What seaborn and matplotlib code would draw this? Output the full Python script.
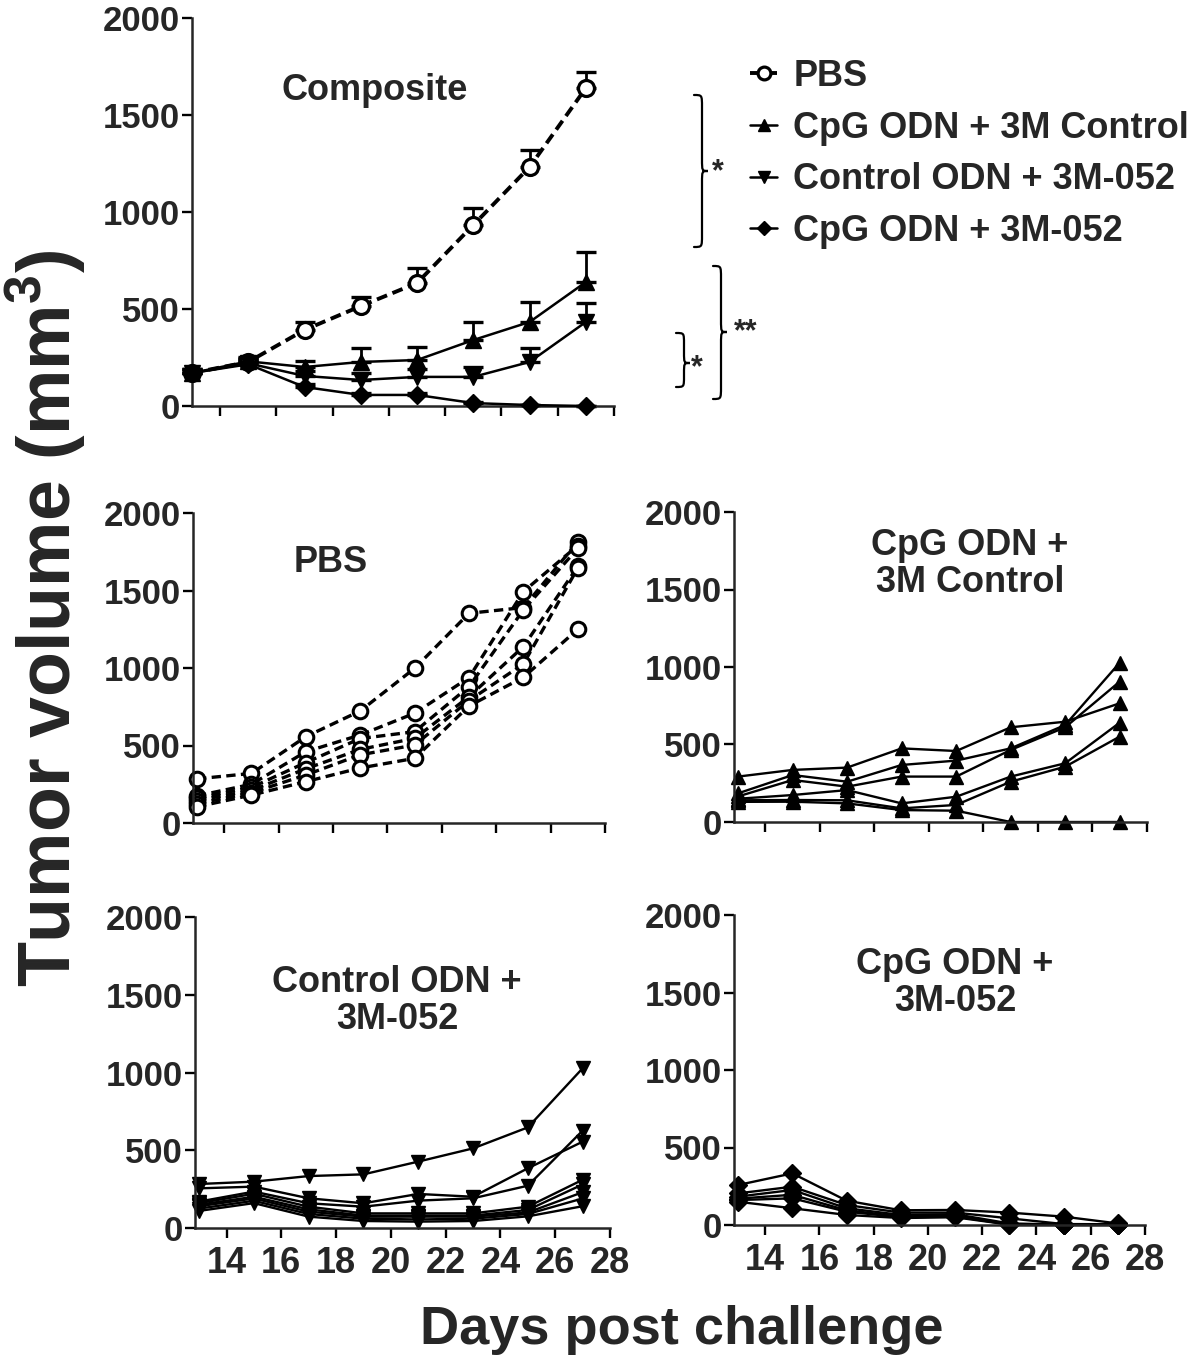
import numpy as np
import pandas as pd
import matplotlib
matplotlib.use("Agg")
import matplotlib.pyplot as plt
import seaborn as sns
from matplotlib import font_manager as fm
from matplotlib.path import Path
from matplotlib.patches import PathPatch

# ---------------- data ----------------
days = [13, 15, 17, 19, 21, 23, 25, 27]
x_ticks = [14, 16, 18, 20, 22, 24, 26, 28]
y_ticks = [0, 500, 1000, 1500, 2000]

group_names = ["PBS", "CpG ODN + 3M Control", "Control ODN + 3M-052", "CpG ODN + 3M-052"]

# composite panel: group means and (upper) SEM
pbs_mean = [170, 227, 392, 515, 634, 933, 1232, 1639]
pbs_sem = [20, 20, 40, 47, 77, 87, 88, 83]
cpgctrl_mean = [170, 230, 201, 227, 237, 340, 433, 639]
cpgctrl_sem = [20, 25, 30, 72, 67, 93, 103, 155]
ctrl052_mean = [170, 220, 155, 134, 150, 150, 227, 433]
ctrl052_sem = [20, 20, 25, 35, 40, 50, 72, 98]
cpg052_mean = [170, 215, 98, 57, 57, 15, 5, 0]
cpg052_sem = [15, 20, 15, 10, 10, 5, 2, 1]

# individual mice
pbs_mice = [
    [285, 320, 557, 723, 998, 1353, 1390, 1815],
    [175, 250, 460, 568, 708, 938, 1493, 1790],
    [160, 230, 390, 545, 589, 880, 1375, 1772],
    [145, 210, 350, 475, 546, 815, 1138, 1655],
    [125, 195, 310, 440, 503, 790, 1026, 1645],
    [105, 180, 267, 355, 417, 755, 940, 1250],
]
cpgctrl_mice = [
    [293, 336, 351, 475, 458, 611, 647, 766],
    [185, 303, 260, 368, 396, 475, 626, 1028],
    [165, 271, 228, 293, 293, 465, 611, 906],
    [150, 174, 206, 120, 163, 293, 379, 641],
    [140, 142, 140, 88, 110, 260, 357, 551],
    [130, 131, 120, 77, 73, 0, 0, 0],
]
ctrl052_mice = [
    [283, 298, 334, 345, 427, 512, 647, 1027],
    [255, 266, 191, 159, 219, 201, 384, 555],
    [170, 234, 159, 137, 176, 191, 272, 626],
    [160, 220, 137, 94, 94, 94, 137, 310],
    [150, 201, 120, 80, 80, 80, 116, 280],
    [140, 190, 105, 73, 73, 73, 100, 230],
    [125, 175, 90, 60, 55, 60, 90, 190],
    [110, 160, 73, 45, 41, 45, 75, 140],
]
cpg052_mice = [
    [258, 333, 157, 95, 97, 80, 54, 10],
    [204, 247, 129, 80, 80, 43, 6, 5],
    [183, 226, 108, 65, 70, 10, 3, 3],
    [170, 195, 95, 55, 60, 5, 2, 2],
    [161, 172, 86, 50, 55, 3, 1, 1],
    [150, 108, 65, 45, 50, 2, 1, 1],
]

panel_titles = ["Composite", "PBS", "CpG ODN +\n3M Control", "Control ODN +\n3M-052", "CpG ODN +\n3M-052"]

# ---------------- style ----------------
sns.set_style("ticks")
names = {f.name for f in fm.fontManager.ttflist}
MAIN = "Liberation Sans" if "Liberation Sans" in names else "DejaVu Sans"
NARROW = None
for cand in ["Liberation Sans Narrow", "DejaVu Sans Condensed"]:
    if cand in names:
        NARROW = cand
        break
plt.rcParams["font.family"] = [MAIN, "DejaVu Sans"]
plt.rcParams["font.weight"] = "bold"
plt.rcParams["mathtext.fontset"] = "custom"
plt.rcParams["mathtext.rm"] = MAIN + ":bold"
plt.rcParams["mathtext.bf"] = MAIN + ":bold"
plt.rcParams["axes.linewidth"] = 1.8

W, H = 1200, 1361
fig = plt.figure(figsize=(W / 100, H / 100), dpi=100)


def px_axes(l, t, r, b):
    return fig.add_axes([l / W, 1 - b / H, (r - l) / W, (b - t) / H])


ax0 = px_axes(192, 18, 614, 406)
ax_pbs = px_axes(193, 513, 605, 823)
ax_cc = px_axes(734, 512, 1147, 822)
ax_c052 = px_axes(195, 917, 610, 1228)
ax_cpg052 = px_axes(734, 915, 1145, 1225)

styles = {
    "PBS": dict(marker="o", mfc="white", ls=(0, (2.8, 1.5)), lw=2.8),
    "CpG ODN + 3M Control": dict(marker="^", mfc="black", ls="-", lw=1.8),
    "Control ODN + 3M-052": dict(marker="v", mfc="black", ls="-", lw=1.8),
    "CpG ODN + 3M-052": dict(marker="D", mfc="black", ls="-", lw=1.8),
}

# ---------------- composite ----------------
comp_means = [pbs_mean, cpgctrl_mean, ctrl052_mean, cpg052_mean]
comp_sems = [pbs_sem, cpgctrl_sem, ctrl052_sem, cpg052_sem]
comp = pd.DataFrame({
    "group": np.repeat(group_names, len(days)),
    "day": days * len(group_names),
    "volume": np.concatenate(comp_means),
    "sem": np.concatenate(comp_sems),
})

for i, g in enumerate(group_names):
    sub = comp[comp["group"] == g]
    st = styles[g]
    ax0.errorbar(sub["day"], sub["volume"], yerr=[np.zeros(len(sub)), sub["sem"]],
                 fmt="none", ecolor="black", elinewidth=2.0, capsize=7.5, capthick=2.4,
                 zorder=2, clip_on=False)
    ms = 11.5 if st["marker"] != "D" else 9.5
    sns.lineplot(data=sub, x="day", y="volume", ax=ax0, color="black",
                 marker=st["marker"], markersize=ms, markerfacecolor=st["mfc"],
                 markeredgecolor="black", markeredgewidth=2.3 if g == "PBS" else 1.0,
                 linestyle=st["ls"], linewidth=st["lw"], label=g, clip_on=False,
                 zorder=3 + i)

handles, labels = ax0.get_legend_handles_labels()
if ax0.legend_ is not None:
    ax0.legend_.remove()
fig.legend(handles, labels, loc="upper left", bbox_to_anchor=(750 / W, 1 - 59 / H),
           frameon=False, prop={"family": MAIN, "weight": "bold", "size": 26},
           handlelength=0.75, handletextpad=0.45, labelspacing=0.46, borderpad=0,
           borderaxespad=0, markerscale=0.8)

# ---------------- individual panels ----------------
indiv = [
    (ax_pbs, "PBS", pbs_mice),
    (ax_cc, "CpG ODN + 3M Control", cpgctrl_mice),
    (ax_c052, "Control ODN + 3M-052", ctrl052_mice),
    (ax_cpg052, "CpG ODN + 3M-052", cpg052_mice),
]
for ax, g, mice in indiv:
    rows = []
    for m, vals in enumerate(mice):
        for d, v in zip(days, vals):
            rows.append({"mouse": m, "day": d, "volume": v})
    df = pd.DataFrame(rows)
    st = styles[g]
    ms = 10.5 if st["marker"] != "D" else 9
    sns.lineplot(data=df, x="day", y="volume", units="mouse", estimator=None, ax=ax,
                 color="black", marker=st["marker"], markersize=ms,
                 markerfacecolor=st["mfc"], markeredgecolor="black",
                 markeredgewidth=2.2 if g == "PBS" else 1.0,
                 linestyle=(0, (2.8, 1.6)) if g == "PBS" else "-",
                 linewidth=2.4 if g == "PBS" else 1.7, clip_on=False, legend=False)

# ---------------- axes formatting ----------------
all_axes = [ax0, ax_pbs, ax_cc, ax_c052, ax_cpg052]
for ax in all_axes:
    ax.set_ylim(0, 2000)
    ax.set_xlim(12.85, 28)
    ax.set_yticks(y_ticks)
    ax.set_xticks(x_ticks)
    ax.set_xlabel("")
    ax.set_ylabel("")
    sns.despine(ax=ax)
    ax.tick_params(axis="both", direction="out", length=7, width=1.7, color="black")
    ax.tick_params(axis="y", labelsize=25, pad=2)
    for lab in ax.get_yticklabels():
        lab.set_fontweight("bold")
        lab.set_family(MAIN)
ax0.set_xlim(13, 28)

for ax in [ax0, ax_pbs, ax_cc]:
    ax.tick_params(axis="x", labelbottom=False)
for ax in [ax_c052, ax_cpg052]:
    ax.tick_params(axis="x", labelsize=26, pad=6)
    for lab in ax.get_xticklabels():
        lab.set_fontweight("bold")
        if NARROW:
            lab.set_family(NARROW)

# titles
title_pos = [(ax0, 0.434, 0.814), (ax_pbs, 0.333, 0.839), (ax_cc, 0.571, 0.832),
             (ax_c052, 0.487, 0.730), (ax_cpg052, 0.538, 0.781)]
for (ax, tx, ty), t in zip(title_pos, panel_titles):
    ax.text(tx, ty, t, transform=ax.transAxes, ha="center", va="center",
            fontsize=26, fontweight="bold", family=MAIN, linespacing=1.05)

# axis labels
fig.text(46 / W, 1 - 618 / H, r"Tumor volume (mm$^{\mathbf{3}}$)", rotation=90,
         ha="center", va="center", fontsize=53, fontweight="bold", family=MAIN)
if NARROW:
    fig.text(682 / W, 1 - 1330 / H, "Days post challenge", ha="center", va="center",
             fontsize=46, fontweight="bold", family=NARROW)
else:
    fig.text(682 / W, 1 - 1330 / H, "Days post challenge", ha="center", va="center",
             fontsize=39, fontweight="bold", family=MAIN)


# ---------------- significance braces ----------------
def brace(xl, xv, xt, y0, y1, ym=None):
    if ym is None:
        ym = (y0 + y1) / 2
    r = min(12, (y1 - y0) / 5)
    pts = [(xl, y0), (xv, y0), (xv, y0), (xv, y0 + r),
           (xv, ym - r),
           (xv, ym), (xv, ym), (xt, ym),
           (xv, ym), (xv, ym), (xv, ym + r),
           (xv, y1 - r),
           (xv, y1), (xv, y1), (xl, y1)]
    codes = [Path.MOVETO, Path.CURVE4, Path.CURVE4, Path.CURVE4,
             Path.LINETO,
             Path.CURVE4, Path.CURVE4, Path.CURVE4,
             Path.CURVE4, Path.CURVE4, Path.CURVE4,
             Path.LINETO,
             Path.CURVE4, Path.CURVE4, Path.CURVE4]
    fpts = [(x / W, 1 - y / H) for x, y in pts]
    patch = PathPatch(Path(fpts, codes), transform=fig.transFigure, fill=False,
                      lw=1.6, edgecolor="black", capstyle="round")
    fig.add_artist(patch)


brace(694, 702, 708, 95, 247)
brace(713, 721, 727, 266, 399, 332)
brace(676, 684, 690, 333, 387, 363)
fig.text(718 / W, 1 - 172 / H, "*", ha="center", va="center", fontsize=22, fontweight="bold")
fig.text(746 / W, 1 - 332 / H, "**", ha="center", va="center", fontsize=22, fontweight="bold")
fig.text(697 / W, 1 - 368 / H, "*", ha="center", va="center", fontsize=22, fontweight="bold")

fig.savefig("out.png", dpi=100)
